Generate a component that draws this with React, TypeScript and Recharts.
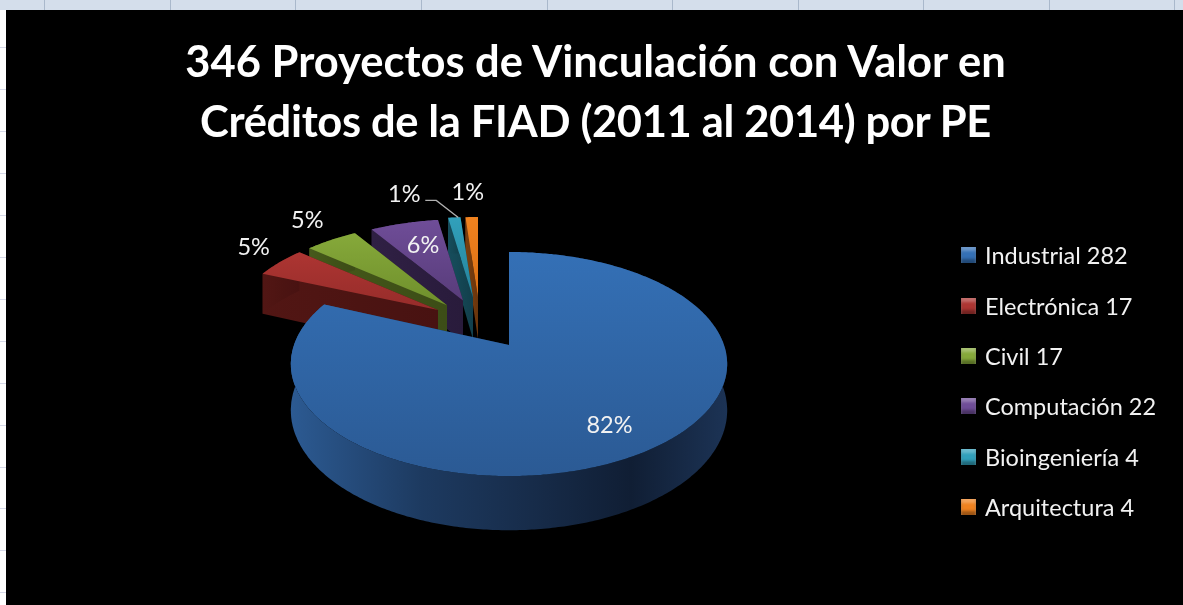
import { Legend, Pie, PieChart } from "recharts";

// values as shown in the legend, Excel order
const categories = ["Industrial", "Electrónica", "Civil", "Computación", "Bioingeniería", "Arquitectura"];
const projects = [282, 17, 17, 22, 4, 4];

const titleLines = ["346 Proyectos de Vinculación con Valor en", "Créditos de la FIAD (2011 al 2014) por PE"];
const titleSpacing = [0, -0.35];
const headerStops = [44, 170, 295, 421, 547, 672, 798, 923, 1049, 1174];
const sideRows = [47, 89, 131, 173, 215, 257, 299, 341, 383, 425, 467, 508, 550, 592];

const topColors = [
  ["#3470b6", "#2b5a94"],
  ["#ad3532", "#962c2a"],
  ["#86a93a", "#6f8f2c"],
  ["#6f4d98", "#583c7a"],
  ["#31a0bb", "#26839b"],
  ["#f0821f", "#d96f14"],
];
const wallColors = [
  ["#2c5a92", "#1d3a60", "#172c4a", "#101e34", "#1c3355"],
  ["#521614", "#4f1513", "#4c1412", "#4a1312", "#481211"],
  ["#465a1c", "#435619", "#405218", "#3e4f17", "#3c4d17"],
  ["#2f2044", "#2e1f42", "#2c1d3f", "#2a1c3d", "#291b3b"],
  ["#164d5c", "#154a58", "#144653", "#13424f", "#123f4c"],
  ["#7a3f10", "#763d0f", "#723a0e", "#6e370d", "#6a350c"],
];
const wallStops = ["0%", "30%", "55%", "78%", "100%"];

// how each slice is pulled away from the centre: [pixels in x, disc units towards the back]
const explode = [
  [-1, 0],
  [-72, -0.34],
  [-63, -0.39],
  [-47, -0.44],
  [-37, -0.47],
  [-32, -0.47],
];
const labelNudge = [
  [-37, -27],
  [-26, -16],
  [-24, -21],
  [19, 21],
  [-50, -24],
  [-4, -26],
];

const PERSPECTIVE = 0.1698;
const SQUASH = 0.506;
const DEPTH = 45;

// drawn back to front, so the big slice has to come last
const rows = categories
  .map((name, index) => ({ name, value: projects[index] }))
  .reverse();

type Pt = { x: number; y: number; s: number };

function project(cx: number, cy: number, r: number, index: number, angle: number, radial: number): Pt {
  const [dx, dv] = explode[index];
  const rad = (angle * Math.PI) / 180;
  const v = dv - Math.sin(rad) * radial;
  const s = 1 / (1 - PERSPECTIVE * v);
  return {
    x: cx + dx + r * Math.cos(rad) * radial * s,
    y: cy + r * SQUASH * v * s,
    s,
  };
}

function toPath(points: Pt[]) {
  return points.map((p, i) => `${i ? "L" : "M"}${p.x.toFixed(1)} ${p.y.toFixed(1)}`).join(" ") + " Z";
}

function wall(a: Pt[]) {
  const lower = [...a].reverse().map((p) => `L${p.x.toFixed(1)} ${(p.y + DEPTH * p.s).toFixed(1)}`);
  return `${toPath(a).slice(0, -2)} ${lower.join(" ")} Z`;
}

function Slice3D(props: any) {
  const { cx, cy, outerRadius, startAngle, endAngle, name } = props;
  const index = categories.indexOf(name);
  const from = Math.min(startAngle, endAngle);
  const to = Math.max(startAngle, endAngle);
  const steps = Math.max(2, Math.ceil((to - from) * 1.5));
  const arc = [];
  for (let i = 0; i <= steps; i += 1) {
    arc.push(project(cx, cy, outerRadius, index, from + ((to - from) * i) / steps, 1));
  }
  const apex = project(cx, cy, outerRadius, index, 0, 0);
  return (
    <g>
      <path d={wall([apex, arc[0]])} fill={`url(#wall${index})`} />
      <path d={wall([apex, arc[arc.length - 1]])} fill={`url(#wall${index})`} />
      <path d={wall(arc)} fill={`url(#wall${index})`} />
      <path d={toPath([apex, ...arc])} fill={`url(#top${index})`} />
    </g>
  );
}

function SliceLabel(props: any) {
  const { cx, cy, outerRadius, midAngle, percent, name } = props;
  const index = categories.indexOf(name);
  const edge = project(cx, cy, outerRadius, index, midAngle, 1);
  const x = edge.x + labelNudge[index][0];
  const y = edge.y + labelNudge[index][1];
  return (
    <g>
      {name === "Bioingeniería" && (
        <polyline
          points={`${x + 21},${y + 7} ${x + 32},${y + 7} ${edge.x + 4},${edge.y}`}
          fill="none"
          stroke="#b0b0b0"
          strokeWidth={1.3}
        />
      )}
      <text x={x} y={y} fill="#f2f2f2" fontSize={23.5} textAnchor="middle" dominantBaseline="central">
        {`${Math.round(percent * 100)}%`}
      </text>
    </g>
  );
}

function LegendBox() {
  return (
    <div>
      {categories.map((name, index) => (
        <div key={name} style={{ display: "flex", alignItems: "center", height: 50.4 }}>
          <span
            style={{
              width: 15,
              height: 16,
              marginRight: 9,
              background: topColors[index][0],
              boxShadow: "inset 0 4px 3px rgba(255,255,255,0.28), inset 0 -4px 3px rgba(0,0,0,0.35)",
            }}
          />
          <span style={{ color: "#f2f2f2", fontSize: 23.5, whiteSpace: "nowrap" }}>
            {name} {projects[index]}
          </span>
        </div>
      ))}
    </div>
  );
}

export default function App() {
  return (
    <div
      style={{
        position: "absolute",
        left: 0,
        top: 0,
        width: 1183,
        height: 605,
        overflow: "hidden",
        background: "#fff",
        fontFamily: "Lato, sans-serif",
        filter: "blur(0.6px)",
      }}
    >
      <div style={{ position: "absolute", left: 0, top: 0, width: 1183, height: 10, background: "#d4deeb" }} />
      {headerStops.map((x) => (
        <div key={x} style={{ position: "absolute", left: x, top: 0, width: 1, height: 10, background: "#a9b8cb" }} />
      ))}
      {sideRows.map((y) => (
        <div key={y} style={{ position: "absolute", left: 0, top: y, width: 6, height: 1, background: "#d5d8e8" }} />
      ))}
      <div style={{ position: "absolute", left: 6, top: 10, width: 1177, height: 595, background: "#000" }} />
      {titleLines.map((line, i) => (
        <div
          key={line}
          style={{
            position: "absolute",
            left: 0,
            width: 1191,
            top: 35 + i * 60,
            textAlign: "center",
            color: "#fff",
            fontSize: 43.5,
            fontWeight: 700,
            letterSpacing: titleSpacing[i],
            lineHeight: "50px",
            whiteSpace: "nowrap",
          }}
        >
          {line}
        </div>
      ))}
      <div style={{ position: "absolute", left: 0, top: 0 }}>
        <PieChart
          width={1183}
          height={605}
          margin={{ top: 0, right: 0, bottom: 0, left: 0 }}
          style={{ fontFamily: "Lato, sans-serif" }}
        >
          <defs>
            {topColors.map((c, i) => (
              <linearGradient key={i} id={`top${i}`} x1="0" y1="0" x2="0" y2="1">
                <stop offset="0%" stopColor={c[0]} />
                <stop offset="100%" stopColor={c[1]} />
              </linearGradient>
            ))}
            {wallColors.map((c, i) => (
              <linearGradient key={i} id={`wall${i}`} x1="0" y1="0" x2="1" y2="0">
                {c.map((color, j) => (
                  <stop key={j} offset={wallStops[j]} stopColor={color} />
                ))}
              </linearGradient>
            ))}
          </defs>
          <Pie
            data={rows}
            dataKey="value"
            nameKey="name"
            cx={510}
            cy={345}
            outerRadius={215}
            startAngle={90}
            endAngle={450}
            stroke="none"
            isAnimationActive={false}
            shape={Slice3D}
            label={SliceLabel}
            labelLine={false}
          />
          <Legend
            layout="vertical"
            align="right"
            verticalAlign="top"
            content={LegendBox}
            wrapperStyle={{ position: "absolute", left: 961, top: 230, width: 215 }}
          />
        </PieChart>
      </div>
    </div>
  );
}
